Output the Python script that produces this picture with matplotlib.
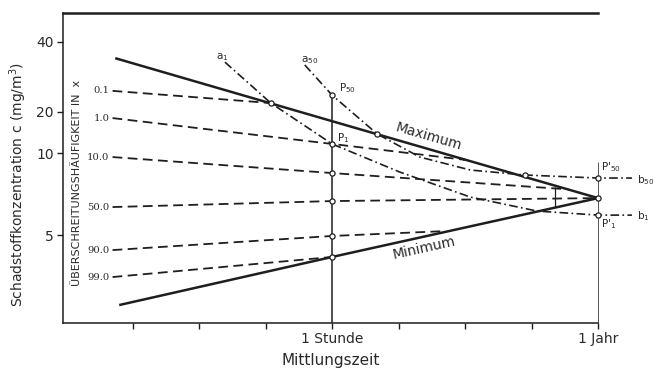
import numpy as np
import matplotlib.pyplot as plt
from matplotlib.ticker import NullLocator, FixedLocator

# y axis of the drawing: tick values and their spacing (non-uniform log scale)
scale_vals = [5, 10, 20, 40]
scale_pos = [0, 81.7, 123.3, 193.3]

# envelope lines (x: decades of averaging time, 0 = 1 Stunde, 4 = 1 Jahr)
max_x = [-3.26, 0, 4]
max_c = [34.0, 17.1, 6.84]
min_x = [-3.2, 0, 4]
min_c = [2.76, 4.15, 6.84]

# exceedance frequency lines
pct_labels = ['0.1', '1.0', '10.0', '50.0', '90.0', '99.0']
pct_x = [[-3.3, -0.92], [-3.3, 0, 2.02], [-3.3, 0, 3.47],
         [-3.3, 0, 4], [-3.3, 0, 1.70], [-3.3, 0]]
pct_c = [[24.6, 21.8], [18.0, 11.7, 9.45], [9.69, 8.46, 7.39],
         [6.34, 6.67, 6.84], [4.40, 4.96, 5.17], [3.50, 4.15]]

# dash-dot curves a1 -> b1 and a50 -> b50
a1_x = [-1.61, -0.92, 0, 1.02, 2.08, 3.08, 4.0, 4.51]
a1_c = [32.7, 21.8, 11.7, 8.53, 6.90, 6.13, 5.92, 5.92]
a50_x = [-0.41, 0, 0.68, 1.32, 2.08, 2.90, 4.0, 4.51]
a50_c = [31.8, 23.6, 13.8, 9.69, 8.68, 8.32, 8.11, 8.11]

# open circles
circ_x = [0, 0, 0, 0, 0, 0, -0.92, 0.68, 2.90, 4, 4, 4]
circ_c = [23.6, 11.7, 8.46, 6.67, 4.96, 4.15, 21.8, 13.8, 8.32, 8.11, 6.84, 5.92]

# small bracket between maximum and minimum
bracket_x = 3.35
bracket_c = [6.34, 7.51]

ytick_vals = [5, 10, 20, 40]
xtick_pos = [-3, -2, -1, 0, 1, 2, 3, 4]
xtick_labels = ['', '', '', '1 Stunde', '', '', '', '1 Jahr']

lv = np.log2(scale_vals)
sp = np.array(scale_pos)
s_lo, s_hi = 81.7, 70.0


def fwd(c):
    l = np.log2(np.maximum(c, 1e-12))
    p = np.interp(l, lv, sp)
    p = np.where(l < lv[0], sp[0] + (l - lv[0]) * s_lo, p)
    p = np.where(l > lv[-1], sp[-1] + (l - lv[-1]) * s_hi, p)
    return p


def inv(p):
    l = np.interp(p, sp, lv)
    l = np.where(p < sp[0], lv[0] + (p - sp[0]) / s_lo, l)
    l = np.where(p > sp[-1], lv[-1] + (p - sp[-1]) / s_hi, l)
    return 2 ** l


ink = '#1e1e1e'
txt = '#2a2a2a'
fig = plt.figure(figsize=(6.53, 3.71), dpi=100)
ax = fig.add_axes([0.0965, 0.1294, 0.8193, 0.8356])
ax.set_yscale('function', functions=(fwd, inv))
ax.set_xlim(-4.045, 4.0)
ax.set_ylim(2.37, 53.2)

dash = (0, (5.4, 3.0))
dashdot = (0, (5.2, 2.0, 1.0, 2.0))

# envelope
ax.plot(max_x, max_c, color=ink, lw=1.8, solid_capstyle='butt', clip_on=False)
ax.plot(min_x, min_c, color=ink, lw=1.8, solid_capstyle='butt', clip_on=False)

# percentile lines and labels
for lab, xs, cs in zip(pct_labels, pct_x, pct_c):
    ax.plot(xs, cs, color=ink, lw=1.3, linestyle=dash)
    ax.text(xs[0] - 0.05, cs[0], lab, ha='right', va='center', fontsize=7.2,
            family='DejaVu Serif', color=txt)

# verticals at 1 Stunde and 1 Jahr
ax.vlines(0, 2.37, 23.6, color=ink, lw=1.1)
ax.vlines(4, 2.37, 9.29, color='#555555', lw=0.7, clip_on=False)
ax.vlines(bracket_x, bracket_c[0], bracket_c[1], color=ink, lw=0.9)

# dash-dot curves
ax.plot(a1_x, a1_c, color=ink, lw=1.2, linestyle=dashdot, clip_on=False)
ax.plot(a50_x, a50_c, color=ink, lw=1.2, linestyle=dashdot, clip_on=False)

ax.scatter(circ_x, circ_c, s=14, facecolor='white', edgecolor=ink,
           linewidth=0.9, zorder=5, clip_on=False)

# annotations
ax.text(1.46, 13.1, 'Maximum', rotation=-16.2, ha='center', va='center',
        fontsize=10, color=txt, rotation_mode='anchor')
ax.text(1.38, 4.48, 'Minimum', rotation=12.6, ha='center', va='center',
        fontsize=10, color=txt, rotation_mode='anchor')
small = dict(fontsize=7.5, color=txt, ha='left', va='center')
ax.text(-1.74, 34.4, 'a$_1$', **small)
ax.text(-0.46, 33.4, 'a$_{50}$', **small)
ax.text(0.1, 25.3, 'P$_{50}$', **small)
ax.text(0.07, 12.9, 'P$_1$', **small)
ax.text(4.05, 8.9, "P$'_{50}$", clip_on=False, **small)
ax.text(4.05, 5.49, "P$'_1$", clip_on=False, **small)
ax.text(4.58, 7.97, 'b$_{50}$', clip_on=False, **small)
ax.text(4.58, 5.88, 'b$_1$', clip_on=False, **small)

fig.text(77 / 653, 1 - 183 / 371, 'ÜBERSCHREITUNGSHÄUFIGKEIT IN  x',
         rotation=90, ha='center', va='center', fontsize=8, color=txt)

# axes styling
ax.spines['right'].set_visible(False)
ax.spines['top'].set_linewidth(1.8)
ax.spines['left'].set_linewidth(1.1)
ax.spines['bottom'].set_linewidth(1.1)
for s in ax.spines.values():
    s.set_color(ink)

ax.yaxis.set_major_locator(FixedLocator(ytick_vals))
ax.yaxis.set_minor_locator(NullLocator())
ax.set_yticklabels([str(v) for v in ytick_vals])
ax.set_xticks(xtick_pos)
ax.set_xticklabels(xtick_labels)
ax.tick_params(axis='both', direction='out', length=4, width=1.0,
               labelsize=10, colors=ink, labelcolor=txt, pad=2.5)

ax.set_ylabel('Schadstoffkonzentration c (mg/m$^3$)', fontsize=10, color=txt)
ax.yaxis.set_label_coords(-0.063, 0.445)
ax.set_xlabel('Mittlungszeit', fontsize=11, color=txt, labelpad=5)

fig.savefig('out.png', dpi=100)
